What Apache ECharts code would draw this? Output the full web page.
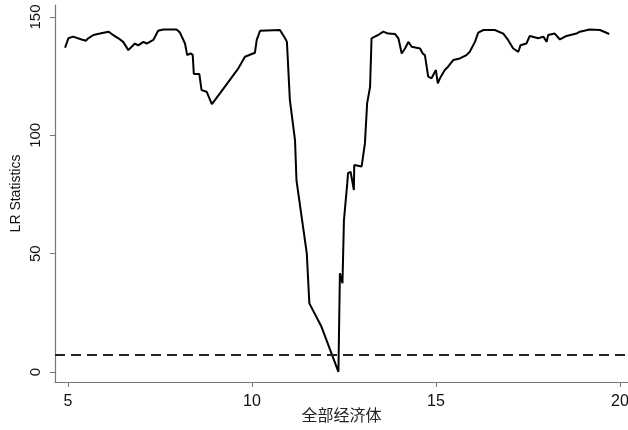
<!DOCTYPE html>
<html>
<head>
<meta charset="utf-8">
<script src="https://cdn.jsdelivr.net/npm/echarts@6/dist/echarts.min.js"></script>
<style>html,body{margin:0;padding:0;background:#fff}#c{width:628px;height:430px}</style>
</head>
<body>
<div id="c"></div>
<script>
// threshold values (x) and LR statistics (y)
const thresholds = [4.92,5.01,5.14,5.37,5.49,5.55,5.69,5.87,6.10,6.19,6.37,6.50,6.64,6.73,6.82,6.91,7.05,7.14,7.32,7.45,7.59,7.95,8.04,8.18,8.24,8.33,8.39,8.42,8.57,8.63,8.77,8.91,9.13,9.36,9.63,9.81,10.08,10.13,10.22,10.76,10.90,10.95,11.03,11.17,11.21,11.49,11.56,11.89,12.35,12.39,12.46,12.50,12.59,12.61,12.68,12.77,12.78,12.98,13.07,13.13,13.21,13.25,13.34,13.43,13.57,13.70,13.89,13.98,14.07,14.16,14.25,14.34,14.57,14.64,14.70,14.79,14.88,15.00,15.05,15.11,15.24,15.33,15.47,15.65,15.83,15.92,16.06,16.15,16.29,16.60,16.83,16.96,17.10,17.24,17.30,17.46,17.55,17.78,17.92,18.01,18.05,18.23,18.37,18.55,18.82,18.91,19.18,19.46,19.71];
const lrStats = [137,141,141.7,140.5,140,141,142.4,143,143.8,142.8,141,139.5,136,137.4,138.8,138,139.5,138.8,140.3,144.2,144.7,144.7,143.5,138.8,133.9,134.6,134,125.9,125.9,119.1,118.4,113.2,117.7,122.6,128.3,133.2,134.9,140.3,144.2,144.5,141,139.5,115,98,81,50.1,29,19.1,0.1,41.7,37.5,64.2,79.7,84,84.6,76.9,87.5,86.8,96.6,113.5,120.5,141,141.7,142.4,143.8,143,142.8,141,134.6,136.7,139.5,137.4,136.7,134.6,133.9,124.8,124.1,127.6,122,124.1,127.6,129,131.8,132.5,133.9,135.3,139.5,143.4,144.5,144.5,143,140.3,136.7,135.3,138.1,138.8,142,141,141.7,139.5,142.4,143,140.5,142,143,143.8,144.7,144.5,142.8];
const criticalValue = 7.35;
const xTicks = [5, 10, 15, 20];
const yTicks = [0, 50, 100, 150];
const xTitle = '全部经济体';
const yTitle = 'LR Statistics';

const chart = echarts.init(document.getElementById('c'), null, {renderer: 'canvas'});
const axisGrey = '#777';
chart.setOption({
  animation: false,
  grid: {left: 55, right: 0, top: 5, bottom: 48, containLabel: false, outerBoundsMode: 'none'},
  xAxis: {
    type: 'value', min: 4.647, max: 20.22,
    name: xTitle, nameLocation: 'middle', nameGap: 25, nameMoveOverlap: false,
    nameTextStyle: {fontFamily: 'Noto Sans CJK SC', fontSize: 16, color: '#222'},
    axisLine: {show: true, onZero: false, lineStyle: {color: axisGrey, width: 1.2}},
    axisTick: {show: true, length: 5, customValues: xTicks, lineStyle: {color: axisGrey}},
    axisLabel: {customValues: xTicks, margin: 12, fontFamily: 'Liberation Sans', fontSize: 16, color: '#111'},
    splitLine: {show: false}
  },
  yAxis: {
    type: 'value', min: -4.22, max: 155.07,
    name: yTitle, nameLocation: 'middle', nameGap: 32, nameRotate: 90, nameMoveOverlap: false,
    nameTextStyle: {fontFamily: 'Liberation Sans', fontSize: 14, color: '#111'},
    axisLine: {show: true, onZero: false, lineStyle: {color: axisGrey, width: 1.2}},
    axisTick: {show: true, length: 5, customValues: yTicks, lineStyle: {color: axisGrey}},
    axisLabel: {customValues: yTicks, rotate: 90, margin: 12, fontFamily: 'Liberation Sans', fontSize: 15, color: '#111'},
    splitLine: {show: false}
  },
  series: [{
    type: 'line',
    data: thresholds.map((x, i) => [x, lrStats[i]]),
    showSymbol: false,
    lineStyle: {color: '#000', width: 2},
    markLine: {
      silent: true, symbol: 'none', label: {show: false},
      lineStyle: {color: '#222', type: [10, 6], width: 2},
      data: [{yAxis: criticalValue}]
    }
  }]
});
</script>
</body>
</html>
